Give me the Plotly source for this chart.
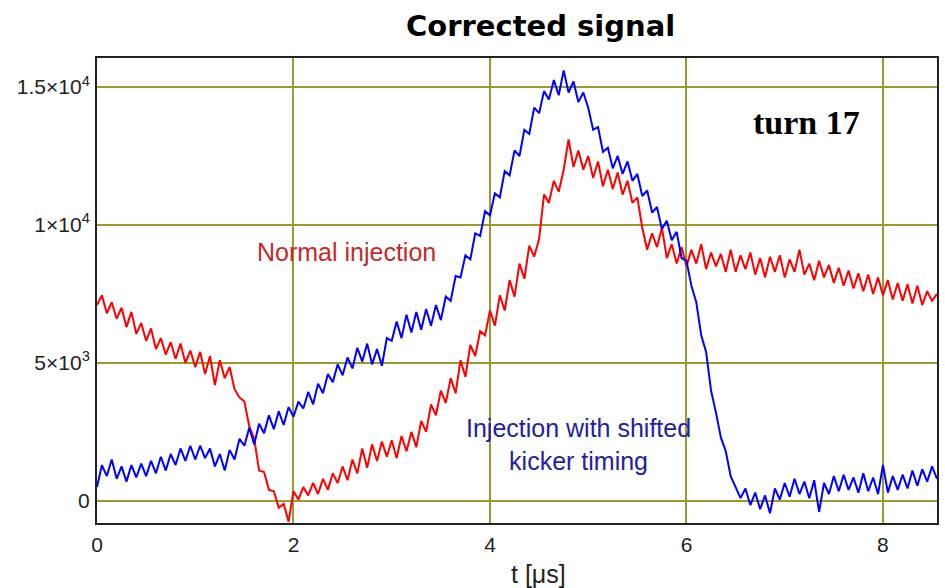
import numpy as np
import plotly.graph_objects as go

# Time base: samples every 0.05 µs from 0 to 8.55 µs
t_step = 0.05
n_samples = 172

# Normal injection (red), signal per sample
normal_injection = [
    7100, 7450, 6800, 7200, 6600, 7000, 6300, 6850, 6050, 6450,
    5800, 6250, 5500, 5900, 5300, 5750, 5150, 5700, 5000, 5450,
    4850, 5400, 4600, 5250, 4200, 5100, 4450, 4850, 4050, 3750,
    3600, 2700, 2250, 1100, 1050, 400, 350, -250, -100, -750,
    350, 50, 500, 200, 650, 250, 800, 400, 1000, 650,
    1250, 750, 1500, 1000, 1900, 1200, 2050, 1450, 2150, 1600,
    2200, 1550, 2350, 1800, 2500, 1950, 2900, 2500, 3500, 3100,
    4000, 3550, 4450, 3900, 5100, 4500, 5650, 5250, 6150, 6000,
    6900, 6350, 7450, 6900, 8000, 7400, 8600, 8050, 9250, 8850,
    9500, 11100, 10800, 11600, 11200, 12000, 13100, 12100, 12700, 12000,
    12500, 11700, 12300, 11400, 12000, 11300, 11900, 11100, 11600, 10800,
    11000, 9900, 9100, 9700, 9200, 9900, 8800, 9300, 8600, 9200,
    8500, 9100, 8600, 9300, 8400, 9000, 8500, 8950, 8300, 9100,
    8300, 8900, 8400, 9000, 8200, 8800, 8100, 8850, 8300, 8900,
    8100, 8750, 8300, 9100, 8200, 8600, 8000, 8700, 8100, 8550,
    7900, 8450, 7800, 8350, 7700, 8250, 7600, 8200, 7500, 8100,
    7450, 8000, 7300, 7900, 7250, 7850, 7150, 7800, 7100, 7600,
    7250, 7500,
]

# Injection with shifted kicker timing (blue), signal per sample
shifted_kicker = [
    500, 1300, 900, 1500, 800, 1250, 700, 1300, 850, 1350,
    900, 1450, 1000, 1600, 1100, 1700, 1300, 1900, 1450, 2000,
    1500, 2000, 1550, 1900, 1250, 1700, 1100, 1850, 1500, 2250,
    2000, 2650, 2050, 2800, 2450, 3100, 2600, 3250, 2750, 3400,
    3050, 3600, 3350, 3950, 3500, 4250, 3900, 4600, 4300, 4950,
    4550, 5200, 4800, 5550, 5050, 5700, 4950, 5500, 4900, 5900,
    5800, 6500, 5900, 6750, 6100, 6850, 6200, 6950, 6350, 7100,
    6550, 7400, 7250, 8150, 8100, 8900, 8750, 9700, 9600, 10500,
    10350, 11150, 11000, 11950, 11800, 12700, 12500, 13450, 13300, 14250,
    14050, 14850, 14550, 15250, 14700, 15600, 14800, 15200, 14450, 14800,
    14250, 13450, 13550, 12650, 12800, 12050, 12500, 11850, 12300, 11600,
    11850, 11050, 11250, 10450, 10650, 9850, 10150, 9450, 9750, 8800,
    8700, 7800, 7200, 6000, 5400, 4000, 3200, 2300, 1800, 900,
    500, 100, 450, -150, 300, -300, 200, -450, 450, 50,
    650, 150, 800, 250, 700, 100, 750, -400, 650, 250,
    900, 350, 950, 400, 850, 300, 1000, 350, 850, 250,
    1300, 300, 900, 400, 950, 450, 1100, 550, 1150, 700,
    1250, 800,
]

y_tick_vals = [0, 5000, 10000, 15000]
y_tick_text = ["0", "5×10<sup>3</sup>", "1×10<sup>4</sup>", "1.5×10<sup>4</sup>"]
x_tick_vals = [0, 2, 4, 6, 8]

t = np.round(np.arange(n_samples) * t_step, 3)

GRID = "#9a9a30"
FONT = "Liberation Sans, Arial, sans-serif"
TEXT = "#222222"

fig = go.Figure()
fig.add_trace(go.Scatter(x=t, y=normal_injection, mode="lines",
                         line=dict(color="#ff0000", width=2), name="Normal injection"))
fig.add_trace(go.Scatter(x=t, y=shifted_kicker, mode="lines",
                         line=dict(color="#0000ff", width=2),
                         name="Injection with shifted kicker timing"))

fig.update_layout(
    width=945, height=588,
    margin=dict(l=97, r=6, t=58, b=65),
    paper_bgcolor="white", plot_bgcolor="white",
    showlegend=False,
    font=dict(family=FONT, color=TEXT),
)

fig.update_xaxes(
    range=[0, 8.55], tickvals=x_tick_vals,
    showgrid=True, gridcolor=GRID, gridwidth=1.5,
    zeroline=False,
    showline=True, linecolor=TEXT, linewidth=2, mirror=True,
    ticks="", ticklabelstandoff=2,
    tickfont=dict(size=21, family=FONT, color=TEXT),
)
fig.update_yaxes(
    range=[-800, 16050], tickvals=y_tick_vals, ticktext=y_tick_text,
    showgrid=True, gridcolor=GRID, gridwidth=1.5,
    zeroline=False,
    showline=True, linecolor=TEXT, linewidth=2, mirror=True,
    ticks="", ticklabelstandoff=1,
    tickfont=dict(size=21, family=FONT, color=TEXT),
)

# Title and x-axis label, placed in paper coordinates
fig.add_annotation(text="<b>Corrected signal</b>", xref="paper", yref="paper",
                   x=0.528, y=1.069, xanchor="center", yanchor="middle", showarrow=False,
                   font=dict(size=29, family="DejaVu Sans, sans-serif", color="#000000"))
fig.add_annotation(text="t [μs]", xref="paper", yref="paper",
                   x=0.525, y=-0.11, xanchor="center", yanchor="middle", showarrow=False,
                   font=dict(size=25, family=FONT, color=TEXT))

# In-plot labels
fig.add_annotation(text="<b>turn 17</b>", x=7.22, y=13700, showarrow=False,
                   font=dict(size=34, family="Liberation Serif, Times New Roman, serif",
                             color="#000000"))
fig.add_annotation(text="Normal injection", x=2.54, y=9020, showarrow=False,
                   font=dict(size=25, family=FONT, color="#c42a2a"))
fig.add_annotation(text="Injection with shifted<br>kicker timing", x=4.90, y=2030,
                   showarrow=False, align="center",
                   font=dict(size=25, family=FONT, color="#2222a0"))

fig.write_html("out.html")
